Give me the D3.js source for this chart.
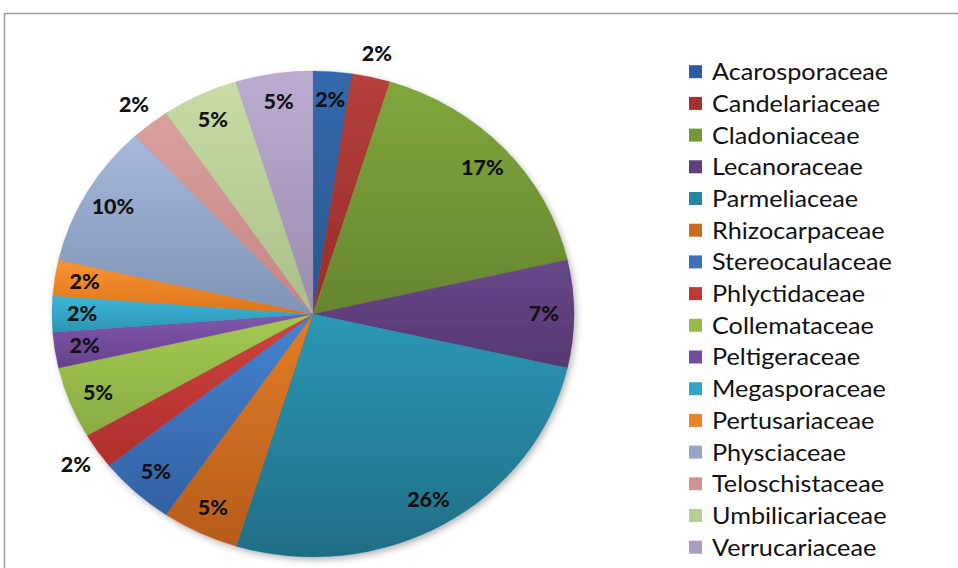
<!DOCTYPE html>
<html>
<head>
<meta charset="utf-8">
<script src="https://cdn.jsdelivr.net/npm/d3@7"></script>
<style>
  html, body { margin: 0; padding: 0; background: #ffffff; }
  svg { display: block; }
</style>
</head>
<body>
<svg id="chart" width="958" height="568"></svg>
<script>
// ---- data ----
const categories = [
  "Acarosporaceae", "Candelariaceae", "Cladoniaceae", "Lecanoraceae",
  "Parmeliaceae", "Rhizocarpaceae", "Stereocaulaceae", "Phlyctidaceae",
  "Collemataceae", "Peltigeraceae", "Megasporaceae", "Pertusariaceae",
  "Physciaceae", "Teloschistaceae", "Umbilicariaceae", "Verrucariaceae"
];
const counts = [1, 1, 7, 3, 11, 2, 2, 1, 2, 1, 1, 1, 4, 1, 2, 2];

// ---- palette (top / bottom of each slice gradient) ----
const colorsTop = [
  "#3569ad", "#b5403c", "#80a73c", "#684889",
  "#2c98b5", "#e27d26", "#4585d2", "#d0433f",
  "#a5c952", "#8059aa", "#3eb7d8", "#f99535",
  "#a6b9dc", "#dba19f", "#c8dba5", "#bbadd1"
];
const colorsBottom = [
  "#2a5690", "#982c2a", "#66852f", "#553871",
  "#1f6e85", "#b65c1b", "#3360a2", "#ad2f2c",
  "#8aab42", "#673f8f", "#2a95b3", "#dd7419",
  "#7e93b6", "#c48583", "#aabf88", "#998cad"
];
const legendColors = [
  "#2d5c9b", "#a5312f", "#739837", "#5d3f7d",
  "#25849e", "#cc6c20", "#3b72bb", "#bd3935",
  "#97bb4a", "#744c9c", "#33a6c6", "#ec8427",
  "#92a6c9", "#cf9392", "#b9cd97", "#aa9dbf"
];
// labels Excel placed outside the slice
const outsideLabels = new Set(["Candelariaceae", "Phlyctidaceae", "Teloschistaceae"]);

// ---- layout ----
const svg = d3.select("#chart");
const cx = 313, cy = 314, R = 243, sx = 1.074;

const total = d3.sum(counts);
const pctFmt = v => Math.round(v / total * 100) + "%";

const defs = svg.append("defs");
categories.forEach((c, i) => {
  const g = defs.append("linearGradient")
    .attr("id", "grad" + i)
    .attr("x1", 0).attr("y1", 0).attr("x2", 0).attr("y2", 1);
  g.append("stop").attr("offset", "0%").attr("stop-color", colorsTop[i]);
  g.append("stop").attr("offset", "100%").attr("stop-color", colorsBottom[i]);
});
const shadow = defs.append("filter").attr("id", "shadow")
  .attr("x", "-10%").attr("y", "-10%").attr("width", "120%").attr("height", "120%");
shadow.append("feDropShadow")
  .attr("dx", 2).attr("dy", 3).attr("stdDeviation", 3)
  .attr("flood-color", "#000").attr("flood-opacity", 0.28);

// chart area border
svg.append("rect")
  .attr("x", 4.5).attr("y", 13.5)
  .attr("width", 1000).attr("height", 600)
  .attr("fill", "none")
  .attr("stroke", "#9c9c9c")
  .attr("stroke-width", 1.5);

const pie = d3.pie().sort(null).value(d => d)(counts);
const arc = d3.arc().innerRadius(0).outerRadius(R);
const inArc = d3.arc().innerRadius(R * 0.885).outerRadius(R * 0.885);
const outArc = d3.arc().innerRadius(R * 1.1).outerRadius(R * 1.1);

const pg = svg.append("g")
  .attr("transform", `translate(${cx},${cy}) scale(${sx},1)`);

const slices = pg.append("g").attr("filter", "url(#shadow)");
slices.selectAll("path")
  .data(pie)
  .join("path")
  .attr("d", arc)
  .attr("fill", (d, i) => `url(#grad${i})`)
  .attr("stroke", (d, i) => colorsBottom[i])
  .attr("stroke-width", 0.3);

pg.append("g").selectAll("text")
  .data(pie)
  .join("text")
  .attr("transform", (d, i) => {
    const p = (outsideLabels.has(categories[i]) ? outArc : inArc).centroid(d);
    return `translate(${p[0]},${p[1]})`;
  })
  .attr("text-anchor", "middle")
  .attr("dy", "0.36em")
  .attr("font-family", "Lato, 'Open Sans', sans-serif")
  .attr("font-weight", "900")
  .attr("font-size", 20)
  .attr("fill", "#111")
  .text(d => pctFmt(d.value));

// legend
const lg = svg.append("g");
const ly0 = 71.7, lstep = 31.7;
const items = lg.selectAll("g")
  .data(categories)
  .join("g")
  .attr("transform", (d, i) => `translate(689,${ly0 + i * lstep})`);
items.append("rect")
  .attr("x", 0).attr("y", -6.5)
  .attr("width", 13).attr("height", 13)
  .attr("fill", (d, i) => legendColors[i]);
items.append("text")
  .attr("transform", `translate(23,0) scale(${sx},1)`)
  .attr("dy", "0.36em")
  .attr("font-family", "Lato, 'Open Sans', sans-serif")
  .attr("font-size", 23.5)
  .attr("fill", "#111")
  .text(d => d);
</script>
</body>
</html>
